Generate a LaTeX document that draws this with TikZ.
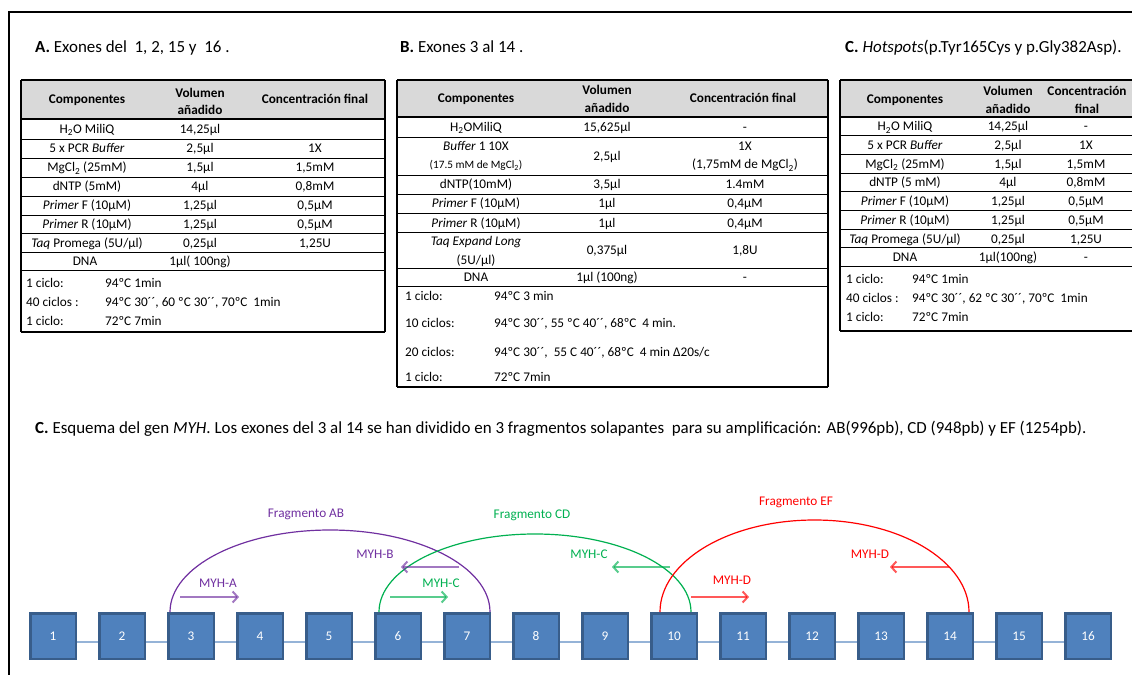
\documentclass[tikz,border=0pt]{standalone}
\usepackage{fontspec}
\setmainfont{Carlito}
\usetikzlibrary{arrows.meta,calc}

\definecolor{hdr}{HTML}{D9D9D9}
\definecolor{exfill}{HTML}{4F81BD}
\definecolor{exdraw}{HTML}{385D8A}
\definecolor{introncol}{HTML}{95B3D7}
\definecolor{fragAB}{HTML}{7030A0}
\definecolor{fragCD}{HTML}{00B050}
\definecolor{fragEF}{HTML}{FF0000}

\tikzset{
  cell/.style={anchor=base, inner sep=0pt, font=\fontsize{13.3}{15}\selectfont},
  cellL/.style={cell, anchor=base west},
  head/.style={cell, font=\fontsize{13.3}{15}\selectfont\bfseries},
  smallcell/.style={cell, font=\fontsize{11.3}{13}\selectfont},
  title/.style={anchor=base west, inner sep=0pt, font=\fontsize{17}{19}\selectfont},
  rowline/.style={line width=0.9bp},
  rule/.style={line width=1.8bp},
  midrule/.style={line width=1.3bp},
  exon/.style={draw=exdraw, fill=exfill, line width=2.5bp, minimum width=45.5bp,
    minimum height=45.5bp, inner sep=0pt, text=white, font=\fontsize{13.3}{15}\selectfont},
  intron/.style={draw=introncol, line width=2bp},
  frag/.style={line width=1.2bp},
  glabel/.style={inner sep=0pt, font=\fontsize{13.3}{15}\selectfont},
  primer/.style={line width=2bp, draw opacity=.65, -{Straight Barb[length=5bp,width=11bp]}}
}

\begin{document}
\begin{tikzpicture}[x=1bp,y=-1bp]
\useasboundingbox (0,0) rectangle (1132,675);

% outer frame
\draw[line width=2.5bp] (9,675) -- (9,12) -- (1132,12);

% headings
\node[title] (tA) at (35,53) {\textbf{A.} Exones del\ \ 1, 2, 15 y\ \ 16 .};
\node[title] (tB) at (400,53) {\textbf{B.} Exones 3 al 14 .};
\node[title] (tC) at (845,53) {\textbf{C.} \textit{Hotspots}(p.Tyr165Cys y p.Gly382Asp).};

% ---------------- table A ----------------
\fill[hdr] (21,80) rectangle (385,119);
\draw[rule] (21,80) -- (385,80);
\draw[midrule] (21,119) -- (385,119);
\foreach \y in {139,158,177,196,215,233,252,270}
  \draw[rowline] (21,\y) -- (385,\y);
\draw[rule] (21,332) -- (385,332);
\draw[midrule] (21,80) -- (21,332);
\draw[midrule] (385,80) -- (385,332);

\node[head] (aH1) at (87,104) {Componentes};
\node[head] (aH2a) at (200,98) {Volumen};
\node[head] (aH2b) at (200,115) {añadido};
\node[head] (aH3) at (315,104) {Concentración final};

\node[cell] (a11) at (87,133.5) {H\textsubscript{2}O MiliQ};
\node[cell] (a12) at (200,133.5) {14,25µl};
\node[cell] (a21) at (87,153) {5 x PCR \textit{Buffer}};
\node[cell] (a22) at (200,153) {2,5µl};
\node[cell] (a23) at (315,153) {1X};
\node[cell] (a31) at (87,172) {MgCl\textsubscript{2} (25mM)};
\node[cell] (a32) at (200,172) {1,5µl};
\node[cell] (a33) at (315,172) {1,5mM};
\node[cell] (a41) at (87,191) {dNTP (5mM)};
\node[cell] (a42) at (200,191) {4µl};
\node[cell] (a43) at (315,191) {0,8mM};
\node[cell] (a51) at (87,210) {\textit{Primer} F (10µM)};
\node[cell] (a52) at (200,210) {1,25µl};
\node[cell] (a53) at (315,210) {0,5µM};
\node[cell] (a61) at (87,228.5) {\textit{Primer} R (10µM)};
\node[cell] (a62) at (200,228.5) {1,25µl};
\node[cell] (a63) at (315,228.5) {0,5µM};
\node[cell] (a71) at (87,247) {\textit{Taq} Promega (5U/µl)};
\node[cell] (a72) at (200,247) {0,25µl};
\node[cell] (a73) at (315,247) {1,25U};
\node[cell] (a81) at (85,265.5) {DNA};
\node[cell] (a82) at (200,265.5) {1µl( 100ng)};

\node[cellL] (ac1) at (26,287.5) {1 ciclo:};
\node[cellL] (ac1v) at (105,287.5) {94ºC 1min};
\node[cellL] (ac2) at (26,306.5) {40 ciclos :};
\node[cellL] (ac2v) at (105,306.5) {94ºC 30´´, 60 ºC 30´´, 70ºC\ \ 1min};
\node[cellL] (ac3) at (26,325.5) {1 ciclo:};
\node[cellL] (ac3v) at (105,325.5) {72ºC 7min};

% ---------------- table B ----------------
\fill[hdr] (397,80) rectangle (828,117);
\draw[rule] (397,80) -- (828,80);
\draw[midrule] (397,117) -- (828,117);
\foreach \y in {137,175,194,213,232,268,286}
  \draw[rowline] (397,\y) -- (828,\y);
\draw[rule] (397,387) -- (828,387);
\draw[midrule] (397,80) -- (397,387);
\draw[midrule] (828,80) -- (828,387);

\node[head] (bH1) at (476,103) {Componentes};
\node[head] (bH2a) at (607,95) {Volumen};
\node[head] (bH2b) at (607,113) {añadido};
\node[head] (bH3) at (743,103) {Concentración final};

\node[cell] (b11) at (476,131.5) {H\textsubscript{2}OMiliQ};
\node[cell] (b12) at (607,131.5) {15,625µl};
\node[cell] (b13) at (745,131.5) {-};
\node[cell] (b21) at (476,150.5) {\textit{Buffer} 1 10X};
\node[smallcell] (b21b) at (476,169) {(17.5 mM de MgCl\textsubscript{2})};
\node[cell] (b22) at (607,160.5) {2,5µl};
\node[cell] (b23) at (745,150.5) {1X};
\node[cell] (b23b) at (745,169) {(1,75mM de MgCl\textsubscript{2})};
\node[cell] (b31) at (476,189) {dNTP(10mM)};
\node[cell] (b32) at (607,189) {3,5µl};
\node[cell] (b33) at (745,189) {1.4mM};
\node[cell] (b41) at (476,208) {\textit{Primer} F (10µM)};
\node[cell] (b42) at (607,208) {1µl};
\node[cell] (b43) at (745,208) {0,4µM};
\node[cell] (b51) at (476,227) {\textit{Primer} R (10µM)};
\node[cell] (b52) at (607,227) {1µl};
\node[cell] (b53) at (745,227) {0,4µM};
\node[cell] (b61) at (476,245.5) {\textit{Taq Expand Long}};
\node[cell] (b61b) at (476,264) {(5U/µl)};
\node[cell] (b62) at (607,254.5) {0,375µl};
\node[cell] (b63) at (745,254.5) {1,8U};
\node[cell] (b71) at (476,281.5) {DNA};
\node[cell] (b72) at (607,281.5) {1µl (100ng)};
\node[cell] (b73) at (745,281.5) {-};

\node[cellL] (bc1) at (405,300.5) {1 ciclo:};
\node[cellL] (bc1v) at (494,300.5) {94ºC 3 min};
\node[cellL] (bc2) at (405,327.5) {10 ciclos:};
\node[cellL] (bc2v) at (494,327.5) {94ºC 30´´, 55 ºC 40´´, 68ºC\ \ 4 min.};
\node[cellL] (bc3) at (405,356.5) {20 ciclos:};
\node[cellL] (bc3v) at (494,356.5) {94ºC 30´´,\ \ 55 C 40´´, 68ºC\ \ 4 min Δ20s/c};
\node[cellL] (bc4) at (405,381.5) {1 ciclo:};
\node[cellL] (bc4v) at (494,381.5) {72ºC 7min};

% ---------------- table C ----------------
\fill[hdr] (840,80) rectangle (1132,117);
\draw[rule] (840,80) -- (1132,80);
\draw[midrule] (840,117) -- (1132,117);
\foreach \y in {135.7,154.4,173.1,191.8,210.5,229.2,247.9,266.6}
  \draw[rowline] (840,\y) -- (1132,\y);
\draw[rule] (840,331) -- (1132,331);
\draw[midrule] (840,80) -- (840,331);

\node[head] (cH1) at (905,104) {Componentes};
\node[head] (cH2a) at (1008,96) {Volumen};
\node[head] (cH2b) at (1008,114) {añadido};
\node[head] (cH3a) at (1087,96) {Concentración};
\node[head] (cH3b) at (1087,114) {final};

\node[cell] (c11) at (905,130.9) {H\textsubscript{2}O MiliQ};
\node[cell] (c12) at (1008,130.9) {14,25µl};
\node[cell] (c13) at (1086,130.9) {-};
\node[cell] (c21) at (905,149.5) {5 x PCR \textit{Buffer}};
\node[cell] (c22) at (1008,149.5) {2,5µl};
\node[cell] (c23) at (1086,149.5) {1X};
\node[cell] (c31) at (905,168.2) {MgCl\textsubscript{2} (25mM)};
\node[cell] (c32) at (1008,168.2) {1,5µl};
\node[cell] (c33) at (1086,168.2) {1,5mM};
\node[cell] (c41) at (905,186.9) {dNTP (5 mM)};
\node[cell] (c42) at (1008,186.9) {4µl};
\node[cell] (c43) at (1086,186.9) {0,8mM};
\node[cell] (c51) at (905,205.6) {\textit{Primer} F (10µM)};
\node[cell] (c52) at (1008,205.6) {1,25µl};
\node[cell] (c53) at (1086,205.6) {0,5µM};
\node[cell] (c61) at (905,224.3) {\textit{Primer} R (10µM)};
\node[cell] (c62) at (1008,224.3) {1,25µl};
\node[cell] (c63) at (1086,224.3) {0,5µM};
\node[cell] (c71) at (905,243) {\textit{Taq} Promega (5U/µl)};
\node[cell] (c72) at (1008,243) {0,25µl};
\node[cell] (c73) at (1086,243) {1,25U};
\node[cell] (c81) at (905,261.7) {DNA};
\node[cell] (c82) at (1008,261.7) {1µl(100ng)};
\node[cell] (c83) at (1086,261.7) {-};

\node[cellL] (cc1) at (846,283.5) {1 ciclo:};
\node[cellL] (cc1v) at (912,283.5) {94ºC 1min};
\node[cellL] (cc2) at (846,302.5) {40 ciclos :};
\node[cellL] (cc2v) at (912,302.5) {94ºC 30´´, 62 ºC 30´´, 70ºC\ \ 1min};
\node[cellL] (cc3) at (846,321.5) {1 ciclo:};
\node[cellL] (cc3v) at (912,321.5) {72ºC 7min};

% ---------------- gene scheme ----------------
\node[title] (tD) at (35,433) {\textbf{C.} Esquema del gen \textit{MYH}. Los exones del 3 al 14 se han dividido en 3 fragmentos solapantes\ \ para su amplificación: AB(996pb), CD (948pb) y EF (1254pb).};

\foreach \i in {1,...,16}
  \node[exon] (e\i) at ({53+(\i-1)*69},636) {\i};
\foreach \i [count=\j from 2] in {1,...,15}
  \draw[intron] ($(e\i.east)+(0,6)$) -- ($(e\j.west)+(0,6)$);

% amplified fragments
\coordinate (abL) at ($(e3.north west)+(3,0)$);
\coordinate (abR) at ($(e7.north east)+(-1,0)$);
\coordinate (abT) at ($(abL)!0.5!(abR)+(0,-82)$);
\draw[frag, fragAB] (abL) .. controls +(0,-45.3) and +(-88.5,0) .. (abT)
  .. controls +(88.5,0) and +(0,-45.3) .. (abR);

\coordinate (cdL) at ($(e6.north west)+(5,0)$);
\coordinate (cdR) at ($(e10.north east)+(-7,0)$);
\coordinate (cdT) at ($(cdL)!0.5!(cdR)+(0,-78)$);
\draw[frag, fragCD] (cdL) .. controls +(0,-43.1) and +(-86.3,0) .. (cdT)
  .. controls +(86.3,0) and +(0,-43.1) .. (cdR);

\coordinate (efL) at ($(e10.north west)+(10,0)$);
\coordinate (efR) at ($(e14.north east)+(-5,0)$);
\coordinate (efT) at ($(efL)!0.5!(efR)+(0,-92)$);
\draw[frag, fragEF] (efL) .. controls +(0,-50.8) and +(-85.5,0) .. (efT)
  .. controls +(85.5,0) and +(0,-50.8) .. (efR);

\node[glabel, text=fragAB] (fAB) at (306,514) {Fragmento AB};
\node[glabel, text=fragCD] (fCD) at (532,515) {Fragmento CD};
\node[glabel, text=fragEF] (fEF) at (796,502) {Fragmento EF};

% primers
\node[glabel, text=fragAB] (mA) at (218,583) {MYH-A};
\node[glabel, text=fragAB] (mB) at (375,554) {MYH-B};
\node[glabel, text=fragCD] (mC1) at (441,583) {MYH-C};
\node[glabel, text=fragCD] (mC2) at (589,554) {MYH-C};
\node[glabel, text=fragEF] (mD1) at (732,580) {MYH-D};
\node[glabel, text=fragEF] (mD2) at (870,554) {MYH-D};

\coordinate (pA1) at (180,597); \coordinate (pA2) at (239,597);
\coordinate (pB1) at (459,567); \coordinate (pB2) at (401,567);
\coordinate (pC1) at (390,597); \coordinate (pC2) at (448,597);
\coordinate (pC3) at (670,567); \coordinate (pC4) at (612,567);
\coordinate (pD1) at (691,597); \coordinate (pD2) at (749,597);
\coordinate (pD3) at (949,567); \coordinate (pD4) at (890,567);

\draw[primer, fragAB] (pA1) -- (pA2);
\draw[primer, fragAB] (pB1) -- (pB2);
\draw[primer, fragCD] (pC1) -- (pC2);
\draw[primer, fragCD] (pC3) -- (pC4);
\draw[primer, fragEF] (pD1) -- (pD2);
\draw[primer, fragEF] (pD3) -- (pD4);
\end{tikzpicture}
\end{document}
